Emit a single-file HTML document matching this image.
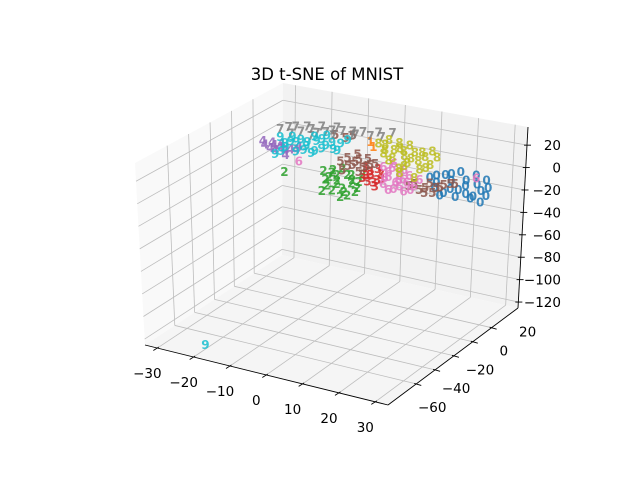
<!DOCTYPE html>
<html><head><meta charset="utf-8"><style>
html,body{margin:0;padding:0;background:#fff;}
svg{display:block;font-family:"DejaVu Sans","Liberation Sans",sans-serif;}
</style></head><body>
<svg id="chart" width="640" height="480" viewBox="0 0 640 480" xmlns="http://www.w3.org/2000/svg">
<rect width="640" height="480" fill="#fff"/>
<text x="327" y="80" text-anchor="middle" font-size="16.5" fill="#000">3D t-SNE of MNIST</text>
<g id="panes"></g>
<g id="grid"></g>
<g id="axes"></g>
<g id="points"></g>
</svg>
<script>
// axis tick values
const xTicks = [-30,-20,-10,0,10,20,30];
const yTicks = [-60,-40,-20,0,20];
const zTicks = [-120,-100,-80,-60,-40,-20,0,20];
const xRange = [-33.4,33.5];
const yRange = [-90,48];
const zRange = [-125.3,36.2];
const digitColors = ["#1f77b4","#ff7f0e","#2ca02c","#d62728","#9467bd","#8c564b","#e377c2","#7f7f7f","#bcbd22","#17becf"];
// points per digit label: [x, y, z]
const pts0 = [[20.2,0,11.3],[24.4,0,16.3],[28.5,0,21.3],[32.7,0,20.8],[35.5,0,18.4],[21.6,0,3.3],[25.8,0,4.7],[29.9,0,9.7],[34.1,0,8.2],[27.2,0,-1.5],[31.3,0,-0.2],[35.5,0,4.8],[23.0,0,-2.9],[22,0,8],[26,0,12],[30,0,15],[33,0,13],[28,0,5],[32,0,2],[24,0,0],[36,0,12],[26,0,18],[30,0,3],[34,0,-2],[22,0,14]];
const pts1 = [[4.0,0,32.6],[4.8,0,28.8]];
const pts2 = [[-8.6,0,-1.4],[-6.3,0,-1.5],[-3.5,0,4.2],[-2.1,0,-1.0],[-4.9,0,-7.7],[-0.75,0,-4.5],[-7.7,0,-14.3],[-3.5,0,-13.9],[0.6,0,-10.7],[-2.1,0,-19.2],[-6.3,0,-17.8],[2.0,0,2.2],[-19.2,0,-9.4],[-7,0,-6],[-5,0,-3],[-1,0,-8],[-3,0,-17],[-5,0,-11],[-8,0,-9],[0,0,-15],[-1,0,0],[-9,0,-20],[-4,0,-22],[1,0,-5],[-6,0,1]];
const pts3 = [[2.6,0,8.9],[4.3,0,3.8],[6.2,0,9.8],[3.4,0,-3.2],[7.1,0,1.4],[5.4,0,-6.2],[4,0,6],[6,0,0],[3,0,2],[5,0,-3],[7,0,6],[2,0,-1]];
const pts4 = [[-24.5,0,12.0],[-22.5,0,15.3],[-20.3,0,12.5],[-17.5,0,11.9],[-18.9,0,6.2],[-15.3,0,16.3],[-21.7,0,8.7],[-23,0,10],[-20,0,16],[-19,0,10],[-16,0,13],[-25,0,15],[-22,0,13]];
const pts5 = [[-5.5,0,32.8],[-2.7,0,32.1],[-0.75,0,35.4],[-2.1,0,14.4],[0.6,0,19.2],[3.4,0,16.8],[-0.75,0,9.1],[2.0,0,8.5],[5.4,0,13.7],[-3.5,0,2.4],[14.6,0,-0.1],[17.4,0,-1.6],[20.2,0,5.9],[23.0,0,4.4],[25.8,0,9.2],[18.8,0,-3.4],[0,0,12],[1,0,15],[4,0,12],[-2,0,7],[1,0,4],[3,0,10],[-4,0,10],[16,0,3],[19,0,1],[22,0,3],[24,0,7],[21,0,-2],[27,0,10]];
const pts6 = [[7.6,0,12.7],[10.4,0,17.5],[13.2,0,13.3],[9.0,0,4.7],[11.8,0,3.1],[14.6,0,9.0],[10.4,0,-5.1],[16.0,0,0.9],[7.6,0,-2.7],[13.2,0,-5.8],[17.4,0,7.4],[-15.3,0,2.7],[32.7,0,18.1],[9,0,9],[12,0,8],[11,0,1],[14,0,3],[8,0,3],[10,0,13],[12,0,-2],[15,0,-3],[9,0,-7],[13,0,5]];
const pts7 = [[-20.3,0,28.8],[-16.1,0,33.7],[-11.9,0,34.2],[-9.1,0,38.1],[-6.3,0,36.6],[-3.5,0,37.8],[-0.75,0,39.1],[2.0,0,40.3],[6.2,0,42.5],[9.9,0,44.4],[-14.7,0,30.3],[-10.5,0,31.7],[-17.5,0,26.4],[-18,0,32],[-13,0,36],[-8,0,34],[-5,0,40],[-1,0,35],[4,0,38],[-12,0,28],[-6,0,32],[0,0,37],[7,0,39]];
const pts8 = [[6.2,0,32.5],[9.0,0,37.3],[11.8,0,36.7],[14.6,0,36.2],[7.6,0,24.5],[10.4,0,29.3],[13.2,0,26.0],[16.0,0,30.8],[18.8,0,28.4],[9.0,0,19.2],[13.2,0,16.9],[17.4,0,16.5],[20.2,0,22.2],[20.7,0,34.4],[16.0,0,8.1],[11.8,0,14.0],[8,0,28],[12,0,32],[15,0,25],[18,0,32],[10,0,22],[14,0,20],[17,0,24],[12,0,10],[8,0,33],[19,0,19],[22,0,30],[13,0,30]];
const pts9 = [[-20.3,0,21.6],[-17.5,0,19.1],[-14.7,0,23.0],[-13.3,0,17.8],[-10.5,0,24.4],[-9.1,0,18.2],[-6.3,0,25.7],[-4.9,0,19.5],[-2.1,0,30.7],[-11.9,0,12.4],[-16.1,0,11.0],[-21.7,0,5.0],[-18.9,0,13.5],[-7.7,0,31.1],[-18,-85,-115],[-19,0,17],[-16,0,20],[-13,0,22],[-11,0,15],[-8,0,22],[-6,0,20],[-14,0,14],[-17,0,24],[-4,0,26],[-9,0,27],[-20,0,9],[-11,0,28]];
const allPts = [pts0,pts1,pts2,pts3,pts4,pts5,pts6,pts7,pts8,pts9];

const NS = "http://www.w3.org/2000/svg";
const B00=[145,345],B10=[388,405],B11=[518,308],B01=[282,255];
const T00=[135,163],T10=[390,215],T11=[528,127],T01=[283,83];
function lerp(a,b,t){return [a[0]+(b[0]-a[0])*t,a[1]+(b[1]-a[1])*t];}
function proj(x,y,z){
  const u=(x-xRange[0])/(xRange[1]-xRange[0]);
  const v=(y-yRange[0])/(yRange[1]-yRange[0]);
  const w=(z-zRange[0])/(zRange[1]-zRange[0]);
  const b=lerp(lerp(B00,B10,u),lerp(B01,B11,u),v);
  const t=lerp(lerp(T00,T10,u),lerp(T01,T11,u),v);
  return lerp(b,t,w);
}
function line(g,p,q,stroke,sw,name){
  const l=document.createElementNS(NS,"line");
  l.setAttribute("x1",p[0]);l.setAttribute("y1",p[1]);l.setAttribute("x2",q[0]);l.setAttribute("y2",q[1]);
  l.setAttribute("stroke",stroke);l.setAttribute("stroke-width",sw);
  
  
  g.appendChild(l);
}
function poly(g,ps,fill,name){
  const p=document.createElementNS(NS,"polygon");
  p.setAttribute("points",ps.map(a=>a.join(",")).join(" "));
  p.setAttribute("fill",fill);
  
  
  g.appendChild(p);
}
function text(g,x,y,s,anchor,size,fill,name,weight){
  const t=document.createElementNS(NS,"text");
  t.setAttribute("x",x);t.setAttribute("y",y);t.setAttribute("text-anchor",anchor);
  t.setAttribute("font-size",size);t.setAttribute("fill",fill);
  if(weight)t.setAttribute("font-weight",weight);
  t.textContent=s;
  
  
  g.appendChild(t);
  return t;
}
const [x0,x1]=xRange,[y0,y1]=yRange,[z0,z1]=zRange;
const panes=document.getElementById("panes");
poly(panes,[proj(x0,y0,z0),proj(x0,y1,z0),proj(x0,y1,z1),proj(x0,y0,z1)],"#f9f9f9","left-pane");
poly(panes,[proj(x0,y1,z0),proj(x1,y1,z0),proj(x1,y1,z1),proj(x0,y1,z1)],"#f2f2f2","back-pane");
poly(panes,[proj(x0,y0,z0),proj(x1,y0,z0),proj(x1,y1,z0),proj(x0,y1,z0)],"#f5f5f5","floor-pane");
const grid=document.getElementById("grid");
const gc="#bdbdbd";
xTicks.forEach(x=>{line(grid,proj(x,y0,z0),proj(x,y1,z0),gc,0.8,"x-grid-floor");line(grid,proj(x,y1,z0),proj(x,y1,z1),gc,0.8,"x-grid-back");});
yTicks.forEach(y=>{line(grid,proj(x0,y,z0),proj(x1,y,z0),gc,0.8,"y-grid-floor");line(grid,proj(x0,y,z0),proj(x0,y,z1),gc,0.8,"y-grid-left");});
zTicks.forEach(z=>{line(grid,proj(x0,y0,z),proj(x0,y1,z),gc,0.8,"z-grid-left");line(grid,proj(x0,y1,z),proj(x1,y1,z),gc,0.8,"z-grid-back");});
const axes=document.getElementById("axes");
line(axes,proj(x0,y0,z0),proj(x1,y0,z0),"#000",0.9,"x-axis-line");
line(axes,proj(x1,y0,z0),proj(x1,y1,z0),"#000",0.9,"y-axis-line");
line(axes,proj(x1,y1,z0),proj(x1,y1,z1),"#000",0.9,"z-axis-line");
xTicks.forEach(x=>{
  const p=proj(x,y0,z0);
  line(axes,[p[0]+1.5,p[1]-1],[p[0]-4,p[1]+2.5],"#000",0.9,"x-tick");
  text(axes,p[0]-10,p[1]+30,String(x).replace("-","\u2212"),"middle",13.5,"#000","x-tick-label");
});
yTicks.forEach((y,i)=>{
  const p=proj(x1,y,z0);
  const f=i/(yTicks.length-1);
  line(axes,[p[0]-2,p[1]-0.5],[p[0]+5,p[1]+1.5],"#000",0.9,"y-tick");
  text(axes,p[0]+16+20*f,p[1]+28-19*f,String(y).replace("-","\u2212"),"middle",13.5,"#000","y-tick-label");
});
zTicks.forEach(z=>{
  const p=proj(x1,y1,z);
  line(axes,[p[0]-3,p[1]],[p[0]+4,p[1]],"#000",0.9,"z-tick");
  text(axes,561,p[1]+5,String(z).replace("-","\u2212"),"end",13.5,"#000","z-tick-label");
});
const pg=document.getElementById("points");
allPts.forEach((arr,d)=>{
  arr.forEach(pt=>{
    const p=proj(pt[0],pt[1],pt[2]);
    const t=text(pg,p[0],p[1]+5,String(d),"middle",12,digitColors[d],"digit-point-"+d,"bold");
    t.setAttribute("fill-opacity","0.85");
  });
});
</script>
</body></html>
